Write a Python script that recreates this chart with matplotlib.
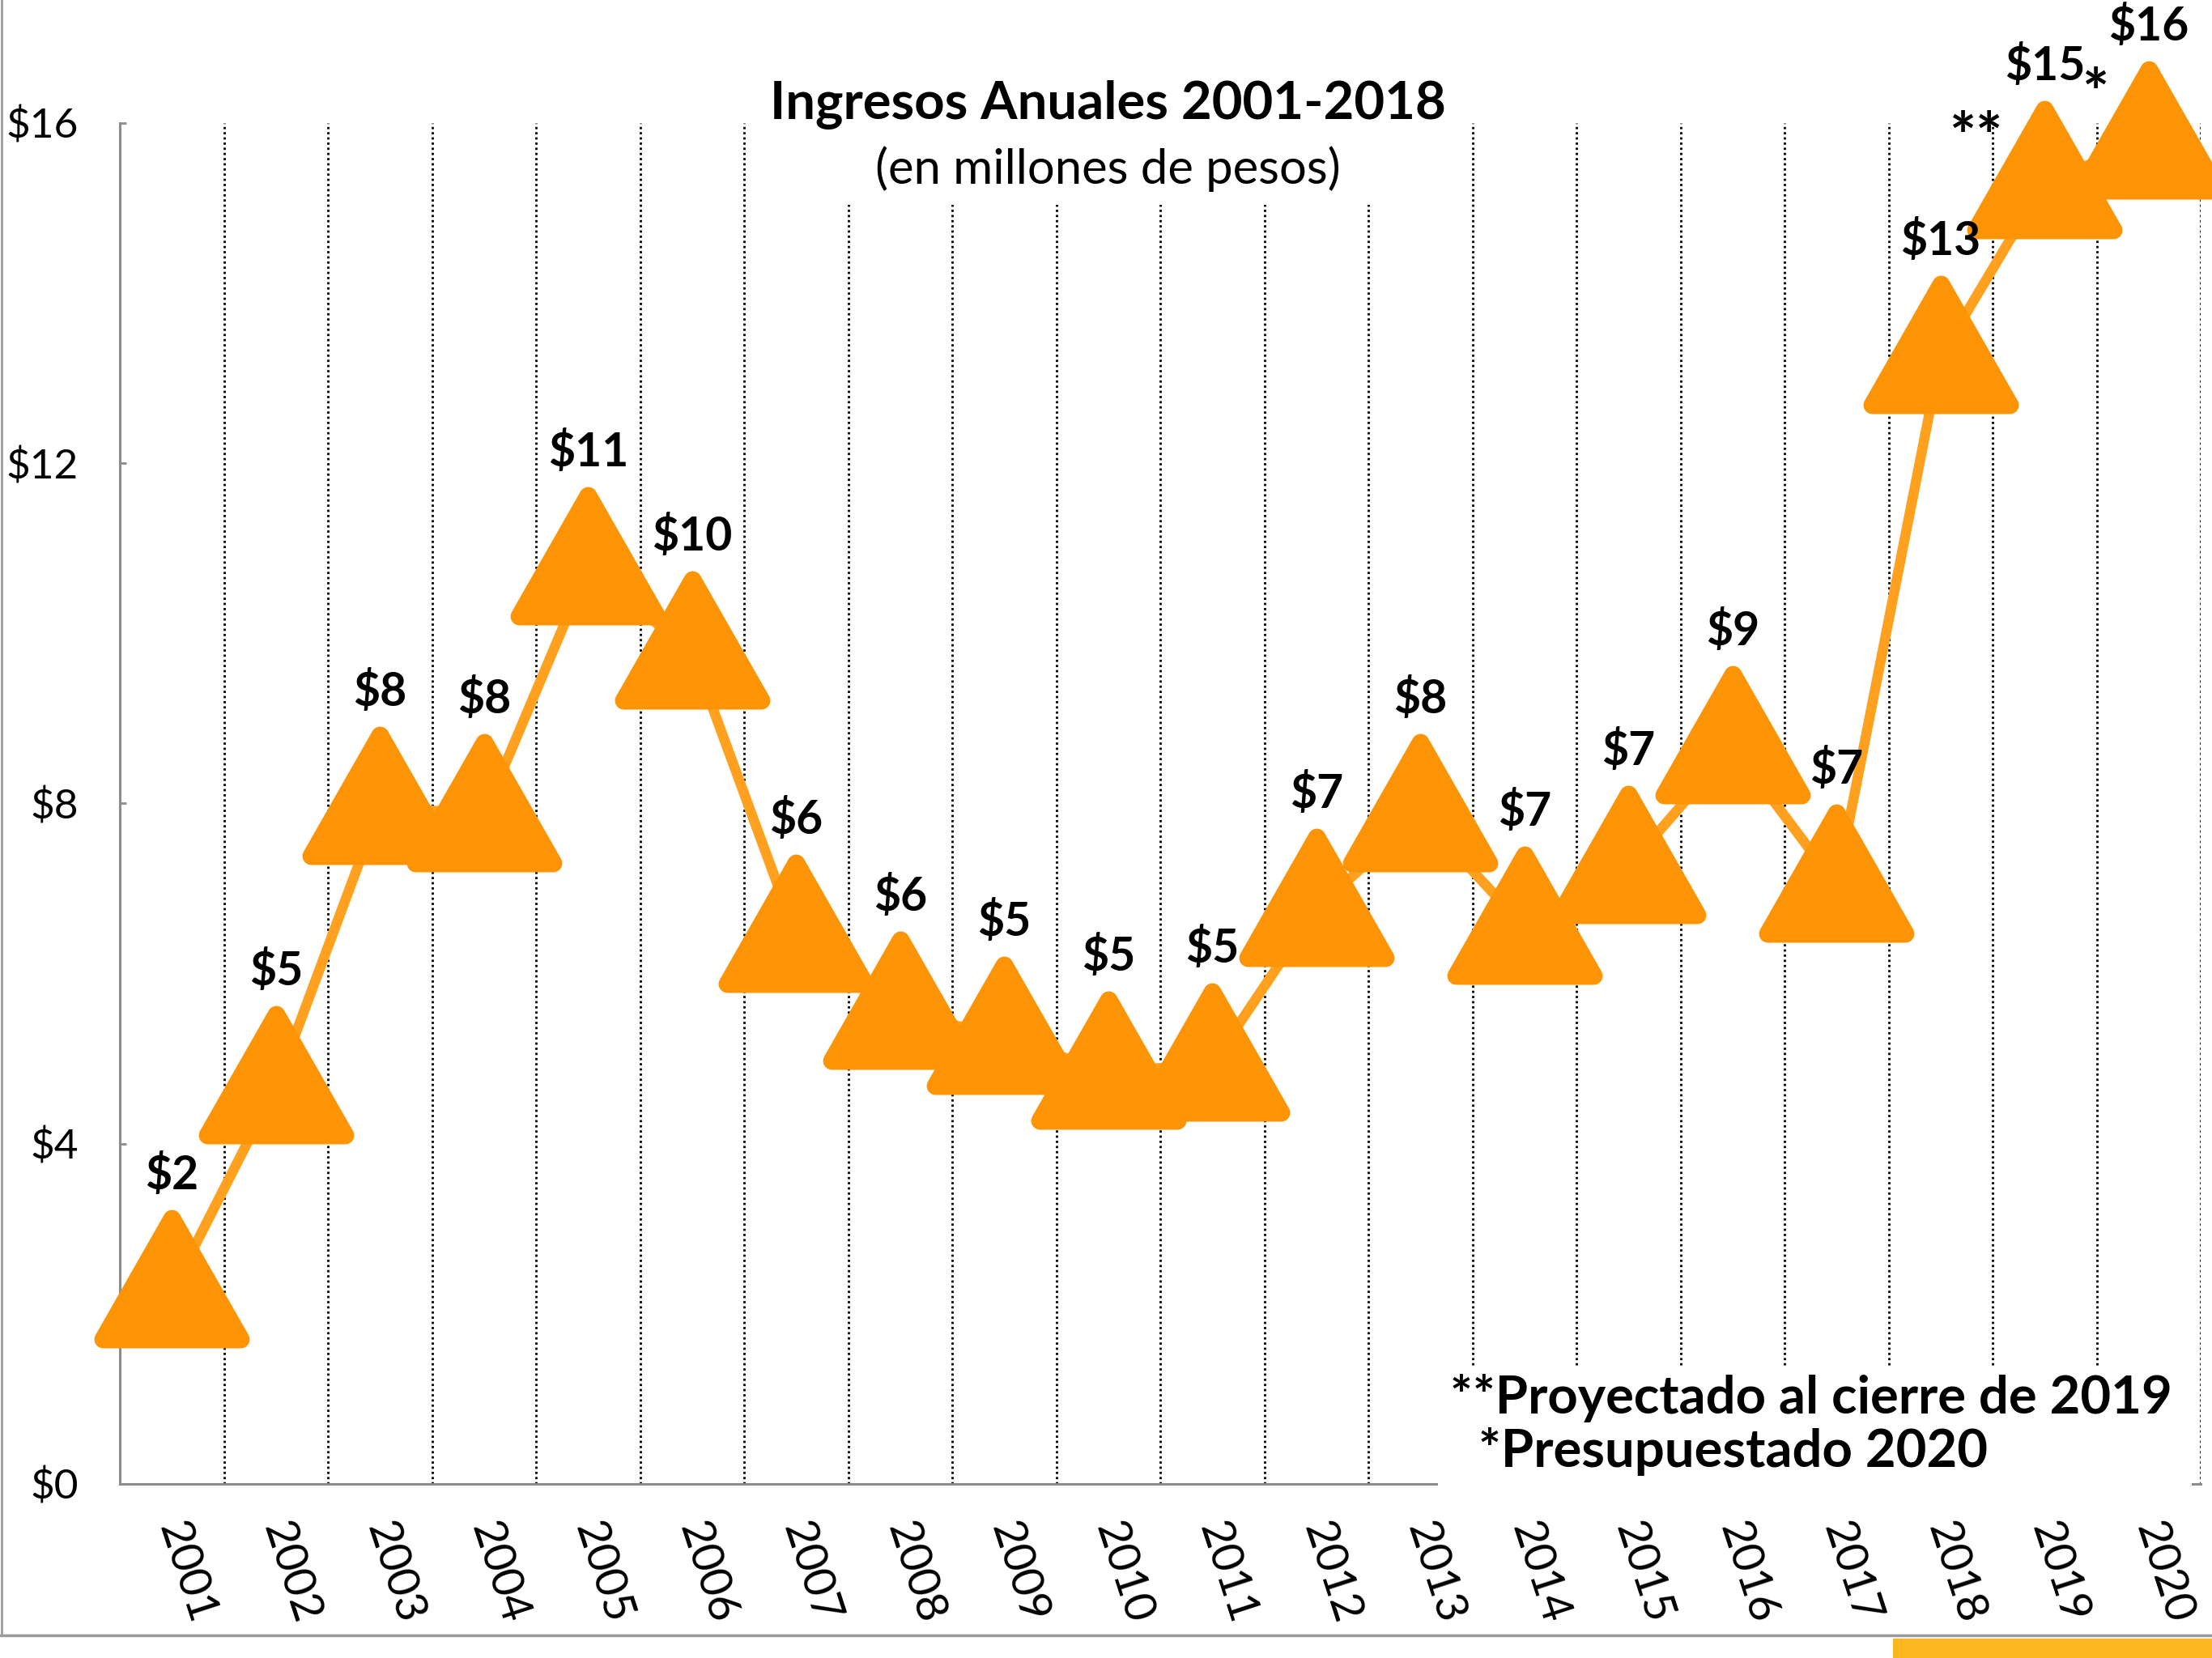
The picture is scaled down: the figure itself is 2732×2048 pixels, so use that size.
import numpy as np
import matplotlib
matplotlib.use("Agg")
import matplotlib.pyplot as plt
from matplotlib.path import Path
from matplotlib.markers import MarkerStyle
from matplotlib.patches import Rectangle
from matplotlib.lines import Line2D
from matplotlib.transforms import ScaledTranslation

# --- datos ---
years = ["2001", "2002", "2003", "2004", "2005", "2006", "2007", "2008", "2009", "2010",
         "2011", "2012", "2013", "2014", "2015", "2016", "2017", "2018", "2019", "2020"]
ingresos = [2.27, 4.67, 7.96, 7.87, 10.77, 9.78, 6.45, 5.55, 5.25, 4.84,
            4.94, 6.76, 7.87, 6.55, 7.26, 8.67, 7.04, 13.26, 15.31, 15.78]
y_ticks = [0, 4, 8, 12, 16]
y_ticklabels = ["$0", "$4", "$8", "$12", "$16"]
titulo = "Ingresos Anuales 2001-2018"
subtitulo = "(en millones de pesos)"
nota_1 = "**Proyectado al cierre de 2019"
nota_2 = "*Presupuestado 2020"

NARANJA = "#FC9405"
LINEA = "#FFA11F"
GRIS = "#8c8c8c"

plt.rcParams['font.family'] = ['Lato', 'DejaVu Sans']

fig = plt.figure(figsize=(27.32, 20.48), dpi=100)
ax = fig.add_axes([0.0542, 0.105, 0.9407, 0.8208])

x = np.arange(len(years))

# triangulo con el punto de anclaje un poco bajo el centro
verts = [(0, 89), (-85, -60), (85, -60), (0, 89)]
tri = MarkerStyle(Path(verts, [Path.MOVETO, Path.LINETO, Path.LINETO, Path.CLOSEPOLY]),
                  joinstyle='round')

ax.plot(x, ingresos, color=LINEA, lw=9, zorder=3, clip_on=False)
ax.plot(x, ingresos, ls='none', marker=tri, ms=2 * 89 * 0.72, mfc=NARANJA, mec=NARANJA,
        mew=15.8, zorder=4, clip_on=False)

# etiquetas de valores
for xi, v in zip(x, ingresos):
    ax.annotate("${:.0f}".format(v), (xi, v), xytext=(0, 90), textcoords='offset points',
                ha='center', va='baseline', fontsize=41, fontweight='bold',
                annotation_clip=False, zorder=6)
ax.annotate("**", (x[18], ingresos[18]), xytext=(-61, 36), textcoords='offset points',
            ha='center', va='center', fontsize=56, fontweight='bold', annotation_clip=False)
ax.annotate("*", (x[19], ingresos[19]), xytext=(-48, 40), textcoords='offset points',
            ha='center', va='center', fontsize=56, fontweight='bold', annotation_clip=False)

ax.set_xlim(-0.5, len(years) - 0.5)
ax.set_ylim(0, 16)

# ejes
for s in ['top', 'right']:
    ax.spines[s].set_visible(False)
for s in ['left', 'bottom']:
    ax.spines[s].set_color(GRIS)
    ax.spines[s].set_linewidth(2.2)

ax.set_yticks(y_ticks, y_ticklabels, fontsize=37, fontweight='normal')
ax.tick_params(axis='y', direction='in', length=6, width=2, color=GRIS, pad=37)

ax.set_xticks(x, years, rotation=-72, fontsize=40, fontweight='normal', ha='center', va='top')
ax.tick_params(axis='x', which='major', length=0, pad=29)
for lab in ax.get_xticklabels():
    lab.set_transform(lab.get_transform() + ScaledTranslation(0.18, 0, fig.dpi_scale_trans))

ax.set_xticks(np.arange(len(years) + 1) - 0.5, minor=True)
ax.tick_params(axis='x', which='minor', length=0)
ax.grid(axis='x', which='minor', color='black', lw=2, ls=(0, (1, 1.3)))
ax.set_axisbelow(True)

# cajas blancas de titulo y nota
fig.add_artist(Rectangle((0.342, 0.8765), 0.3205, 0.06, transform=fig.transFigure,
                         facecolor='white', edgecolor='none', zorder=1))
fig.add_artist(Rectangle((0.650, 0.1005), 0.341, 0.0745, transform=fig.transFigure,
                         facecolor='white', edgecolor='none', zorder=1))

fig.text(0.501, 0.928, titulo, ha='center', va='baseline', fontsize=47, fontweight='bold', zorder=2)
fig.text(0.501, 0.889, subtitulo, ha='center', va='baseline', fontsize=43, fontweight='normal', zorder=2)
fig.text(0.6555, 0.1475, nota_1, ha='left', va='baseline', fontsize=47, fontweight='bold', zorder=2)
fig.text(0.6683, 0.1152, nota_2, ha='left', va='baseline', fontsize=47, fontweight='bold', zorder=2)

# marco de la diapositiva
fig.add_artist(Line2D([0.0008, 0.0008], [0.0137, 1], transform=fig.transFigure, color='#9a9a9a', lw=2))
fig.add_artist(Line2D([0, 1], [0.0137, 0.0137], transform=fig.transFigure, color='#9a9a9a', lw=2.5))
fig.add_artist(Rectangle((0.8558, 0), 0.1442, 0.0117, transform=fig.transFigure,
                         facecolor='#FDB71E', edgecolor='none'))

fig.savefig('out.png', dpi=100)
